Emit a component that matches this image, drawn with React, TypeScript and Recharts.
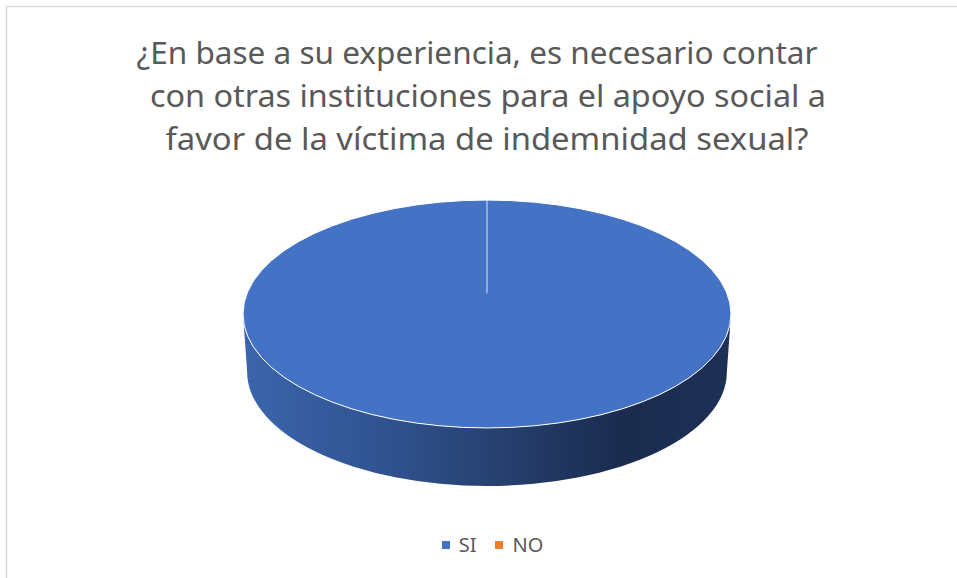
import React from "react";
import { PieChart, Pie, Cell, Legend } from "recharts";

// answers and counts (share of respondents)
const categories = ["SI", "NO"];
const values = [100, 0];
const sliceColors = ["#4472C4", "#ED7D31"];
const titleLines = [
  "¿En base a su experiencia, es necesario contar",
  "con otras instituciones para el apoyo social a",
  "favor de la víctima de indemnidad sexual?",
];

const data = categories.map((name, i) => ({ name, value: values[i] }));

const W = 957;
const H = 578;
const TILT = 0.467; // vertical squash of the 3D disc
const DEPTH = 58; // thickness of the disc
const BOTTOM_SHRINK = 0.983; // slight perspective on the lower rim
const CENTER_LIFT = 0.18; // projected centre sits a bit above the ellipse centre
const FONT = "'Noto Sans', 'Open Sans', sans-serif";

function Slice3D(props: any) {
  const { cx, cy, outerRadius, startAngle, endAngle, fill, index } = props;
  const span = Math.abs(endAngle - startAngle);
  if (span < 0.01) return <g />;

  const rx = outerRadius;
  const ry = outerRadius * TILT;
  const rxb = rx * BOTTOM_SHRINK;
  const rad = (a: number) => (a * Math.PI) / 180;
  const top = (a: number) => [cx + rx * Math.cos(rad(a)), cy - ry * Math.sin(rad(a))];
  const bot = (a: number) => [cx + rxb * Math.cos(rad(a)), cy + DEPTH - ry * Math.sin(rad(a))];

  // front (visible) part of the rim: angles 180..360
  const lo = Math.min(startAngle, endAngle);
  const hi = Math.max(startAngle, endAngle);
  const sides: [number, number][] = [];
  for (let k = -2; k <= 1; k++) {
    const a = Math.max(lo, 180 + 360 * k);
    const b = Math.min(hi, 360 + 360 * k);
    if (b - a > 0.01) sides.push([a, b]);
  }

  const gradId = `side-grad-${index}`;
  const full = span >= 359.99;
  const ps = top(startAngle);
  const pe = top(endAngle);
  const large = span > 180 ? 1 : 0;
  const sweep = endAngle < startAngle ? 1 : 0;
  const centerY = cy - ry * CENTER_LIFT;

  return (
    <g>
      <defs>
        <linearGradient id={gradId} gradientUnits="userSpaceOnUse" x1={cx - rx} y1={0} x2={cx + rx} y2={0}>
          <stop offset="0%" stopColor="#3b65ac" />
          <stop offset="30%" stopColor="#30528f" />
          <stop offset="55%" stopColor="#253e6c" />
          <stop offset="78%" stopColor="#1a2b4e" />
          <stop offset="100%" stopColor="#1d3055" />
        </linearGradient>
      </defs>
      {sides.map(([a, b], i) => {
        const [x1, y1] = top(a);
        const [x2, y2] = top(b);
        const [x3, y3] = bot(b);
        const [x4, y4] = bot(a);
        return (
          <path
            key={i}
            d={`M${x1},${y1} A${rx},${ry} 0 0 0 ${x2},${y2} L${x3},${y3} A${rxb},${ry} 0 0 1 ${x4},${y4} Z`}
            fill={`url(#${gradId})`}
          />
        );
      })}
      {full ? (
        <>
          <ellipse cx={cx} cy={cy} rx={rx} ry={ry} fill={fill} stroke="#ffffff" strokeWidth={1} />
          <line x1={cx} y1={centerY} x2={ps[0]} y2={ps[1]} stroke="#ffffff" strokeWidth={1} opacity={0.8} />
        </>
      ) : (
        <path
          d={`M${cx},${centerY} L${ps[0]},${ps[1]} A${rx},${ry} 0 ${large} ${sweep} ${pe[0]},${pe[1]} Z`}
          fill={fill}
          stroke="#ffffff"
          strokeWidth={1}
        />
      )}
    </g>
  );
}

function LegendContent(props: any) {
  const { payload } = props;
  // keep the series order (SI, NO) rather than the legend's sorted order
  const items = categories
    .map((c) => (payload || []).find((p: any) => p.value === c))
    .filter(Boolean);
  return (
    <div style={{ display: "flex", justifyContent: "center", fontFamily: FONT, fontSize: 20, color: "#595959" }}>
      {items.map((entry: any, i: number) => (
        <div key={i} style={{ display: "flex", alignItems: "center", marginRight: i === 0 ? 19 : 0 }}>
          <span style={{ width: 8, height: 8, background: entry.color, display: "inline-block", marginRight: 9 }} />
          <span>{entry.value}</span>
        </div>
      ))}
    </div>
  );
}

export default function App() {
  return (
    <div style={{ position: "relative", width: W, height: H, background: "#ffffff" }}>
      <style>{`body { margin: 0; }`}</style>
      <svg width={W} height={170} style={{ position: "absolute", left: 0, top: 0 }}>
        {titleLines.map((t, i) => (
          <text
            key={i}
            x={[477, 488, 487][i]}
            y={64 + i * 43}
            textAnchor="middle"
            fontFamily={FONT}
            fontSize={30}
            fill="#595959"
            textLength={[681, 676, 643][i]}
            lengthAdjust="spacingAndGlyphs"
          >
            {t}
          </text>
        ))}
      </svg>
      <div style={{ position: "absolute", left: 0, top: 0 }}>
        <PieChart width={W} height={H} margin={{ top: 0, right: 0, bottom: 0, left: 0 }}>
          <Pie
            data={data}
            dataKey="value"
            nameKey="name"
            cx={487}
            cy={314}
            outerRadius={244}
            startAngle={90}
            endAngle={-270}
            stroke="none"
            isAnimationActive={false}
            shape={Slice3D}
          >
            {data.map((d, i) => (
              <Cell key={d.name} fill={sliceColors[i]} />
            ))}
          </Pie>
          <Legend
            content={<LegendContent />}
            wrapperStyle={{ top: 531, left: 14, width: W }}
          />
        </PieChart>
      </div>
      <svg width={W} height={H} style={{ position: "absolute", left: 0, top: 0, pointerEvents: "none" }}>
        <line x1={6.5} y1={6.5} x2={W} y2={6.5} stroke="#d9d9d9" strokeWidth={1.5} />
        <line x1={6.5} y1={6.5} x2={6.5} y2={H} stroke="#d9d9d9" strokeWidth={1.5} />
      </svg>
    </div>
  );
}
